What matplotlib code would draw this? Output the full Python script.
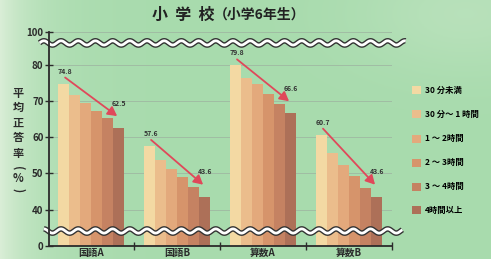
import numpy as np
import matplotlib
matplotlib.use('Agg')
import matplotlib.pyplot as plt
from matplotlib.patches import Patch
from matplotlib.transforms import offset_copy, blended_transform_factory

plt.rcParams['font.family'] = ['Noto Sans CJK JP', 'DejaVu Sans']

subjects = ['国語A', '国語B', '算数A', '算数B']
hours = ['30 分未満', '30 分～ 1 時間', '1 ～ 2時間', '2 ～ 3時間', '3 ～ 4時間', '4時間以上']
kokugo_a = [74.8, 71.5, 69.5, 67.3, 65.2, 62.5]
kokugo_b = [57.6, 53.8, 51.2, 48.9, 46.2, 43.6]
sansu_a = [79.8, 76.4, 74.7, 72.0, 69.1, 66.6]
sansu_b = [60.7, 55.7, 52.3, 49.2, 46.0, 43.6]
scores = [kokugo_a, kokugo_b, sansu_a, sansu_b]
yticks = [0, 40, 50, 60, 70, 80, 100]
ylabel_chars = ['平', '均', '正', '答', '率', '(', '%', ')']

colors = ['#f3d9a3', '#ebbd8c', '#e3a97c', '#d6946b', '#c58262', '#ad7058']
dark = '#2b2b2b'
arrow_c = '#e0485a'


# broken y axis: 0-40 squeezed, 40-80 linear, 80-100 squeezed
def fwd(v):
    v = np.asarray(v, float)
    return np.where(v < 40, 30 + v / 4, np.where(v <= 80, v, 80 + (v - 80) * 0.45))


def inv(f):
    f = np.asarray(f, float)
    return np.where(f < 40, (f - 30) * 4, np.where(f <= 80, f, 80 + (f - 80) / 0.45))


fig = plt.figure(figsize=(4.91, 2.59), dpi=100)

# background gradient
bg = fig.add_axes([0, 0, 1, 1], zorder=-10)
gx = np.linspace(0, 1, 300)
gy = np.linspace(0, 1, 160)
X, Y = np.meshgrid(gx, gy)
w = np.exp(-X / 0.07) * 0.8 + np.exp(-((X - 0.95) ** 2 + (Y - 0.05) ** 2) / 0.05) * 0.25
base = np.array([0.66, 0.86, 0.68])
light = np.array([0.90, 0.95, 0.88])
img = base[None, None, :] * (1 - w[..., None]) + light[None, None, :] * w[..., None]
bg.imshow(img, aspect='auto', extent=[0, 1, 0, 1])
bg.axis('off')

ax = fig.add_axes([49 / 491, 1 - 246 / 259, (392 - 49) / 491, 214 / 259])
ax.patch.set_alpha(0)
ax.set_yscale('function', functions=(fwd, inv))
ax.set_ylim(0, 100)
ax.set_xlim(-0.49, 3.5)

bw = 0.128
x = np.arange(len(subjects))
for i in range(6):
    vals = [s[i] for s in scores]
    ax.bar(x + (i - 2.5) * bw, vals, bw, color=colors[i], zorder=2)

for g, s in enumerate(scores):
    xf = g - 2.5 * bw
    xl = g + 2.5 * bw
    ax.annotate(f'{s[0]:.1f}', (xf, s[0]), xytext=(1, 9), textcoords='offset points',
                ha='center', va='center', fontsize=5, color='#333333', fontweight='bold')
    ax.annotate(f'{s[-1]:.1f}', (xl, s[-1]), xytext=(0, 18), textcoords='offset points',
                ha='center', va='center', fontsize=5, color='#333333', fontweight='bold')
    t_start = offset_copy(ax.transData, fig=fig, x=1.5, y=6, units='dots')
    t_end = offset_copy(ax.transData, fig=fig, x=-1.5, y=12, units='dots')
    ax.annotate('', xy=(xl, s[-1]), xycoords=t_end, xytext=(xf, s[0]), textcoords=t_start,
                arrowprops=dict(arrowstyle='-|>,head_length=0.55,head_width=0.3', color=arrow_c,
                                lw=1.3, shrinkA=0, shrinkB=0), zorder=5)

# grid
for t in yticks[1:]:
    ax.axhline(t, color='#9fb8a2', lw=0.6, zorder=1)

# wavy break marks
tr = blended_transform_factory(ax.transData, ax.transAxes)
for yb, x0, x1 in [(0.949, -0.6, 3.66), (0.070, -0.55, 3.62)]:
    wx = np.linspace(x0, x1, 600)
    wy = yb + 0.010 * np.sin(2 * np.pi * wx / 0.2)
    ax.plot(wx, wy, transform=tr, color='#333333', lw=4.0, clip_on=False, zorder=6,
            solid_capstyle='butt')
    ax.plot(wx, wy, transform=tr, color='white', lw=2.0, clip_on=False, zorder=7,
            solid_capstyle='butt')

for side in ['top', 'right']:
    ax.spines[side].set_visible(False)
for side in ['left', 'bottom']:
    ax.spines[side].set_color(dark)
    ax.spines[side].set_linewidth(1.3)
    ax.spines[side].set_zorder(8)

ax.set_yticks(yticks)
ax.set_yticks([], minor=True)
ax.set_yticklabels([str(t) for t in yticks], fontsize=7, fontweight='bold', color=dark)
ax.tick_params(axis='y', direction='inout', length=6, width=1, color=dark, pad=1)

ax.set_xticks(x)
ax.set_xticklabels(subjects, fontsize=7, fontweight='bold', color=dark)
ax.set_xticks([0.5, 1.5, 2.5, 3.5], minor=True)
ax.tick_params(axis='x', which='major', length=0, pad=1.5)
ax.tick_params(axis='x', which='minor', direction='inout', length=6, width=1, color=dark)

# y label (vertical writing, one character per line; brackets turned sideways)
ylabel_pos = [93, 108, 123, 138, 153, 168, 179, 190]
for ch, py in zip(ylabel_chars, ylabel_pos):
    rot = -90 if ch in '()' else 0
    fig.text(18 / 491, 1 - py / 259, ch, ha='center', va='center', rotation=rot,
             fontsize=8, fontweight='bold', color=dark)

# title
fig.text(152 / 491, 1 - 15 / 259, '小  学  校', ha='left', va='center',
         fontsize=11.5, fontweight='bold', color='#222222')
fig.text(214 / 491, 1 - 15 / 259, '（小学6年生）', ha='left', va='center',
         fontsize=10, fontweight='bold', color='#222222')

handles = [Patch(facecolor=c, edgecolor='none') for c in colors]
fig.legend(handles, hours, loc='upper left', bbox_to_anchor=(409 / 491, 1 - 83 / 259),
           frameon=False, prop={'weight': 'bold', 'size': 6},
           handlelength=1.0, handleheight=1.1, handletextpad=0.5, labelspacing=1.8,
           borderaxespad=0)

fig.savefig('out.png', dpi=100)
